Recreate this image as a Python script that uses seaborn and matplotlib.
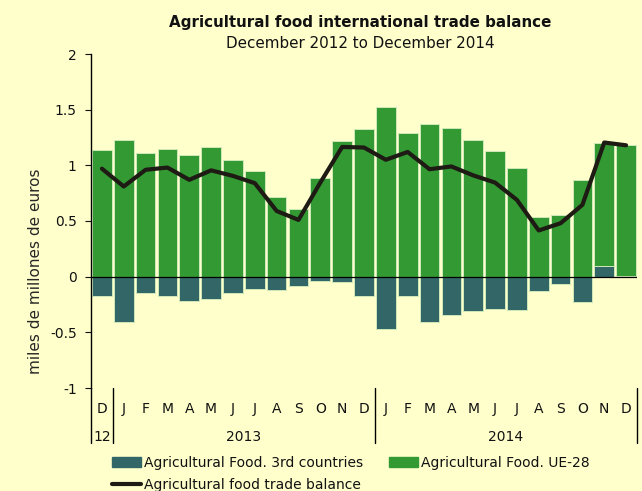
import numpy as np
import matplotlib
matplotlib.use('Agg')
import matplotlib.pyplot as plt
import seaborn as sns
from matplotlib.patches import Patch
from matplotlib.lines import Line2D

# monthly data, Dec 2012 .. Dec 2014 (miles de millones de euros)
months = ['D', 'J', 'F', 'M', 'A', 'M', 'J', 'J', 'A', 'S', 'O', 'N', 'D',
          'J', 'F', 'M', 'A', 'M', 'J', 'J', 'A', 'S', 'O', 'N', 'D']
years = ['12', '2013', '2014']
third_countries = [-0.17, -0.41, -0.15, -0.17, -0.215, -0.205, -0.15, -0.115, -0.12, -0.085, -0.04, -0.05, -0.17,
                   -0.47, -0.17, -0.41, -0.34, -0.31, -0.29, -0.295, -0.125, -0.07, -0.23, 0.095, 0.005]
ue28 = [1.135, 1.225, 1.115, 1.15, 1.09, 1.165, 1.05, 0.95, 0.715, 0.605, 0.885, 1.22, 1.33,
        1.525, 1.29, 1.375, 1.335, 1.225, 1.13, 0.98, 0.54, 0.55, 0.87, 1.105, 1.175]
balance = [0.97, 0.81, 0.96, 0.98, 0.87, 0.955, 0.905, 0.84, 0.59, 0.51, 0.845, 1.165, 1.16,
           1.05, 1.12, 0.965, 0.99, 0.91, 0.845, 0.69, 0.415, 0.48, 0.645, 1.205, 1.18]

bg = '#FFFFCC'
green = '#339933'
teal = '#336666'
dark = '#1E1A14'

sns.set_theme(style='ticks', rc={'figure.facecolor': bg, 'axes.facecolor': bg,
                                 'axes.edgecolor': 'black', 'text.color': '#111111',
                                 'xtick.color': '#111111', 'ytick.color': '#111111'})
plt.rcParams['font.family'] = ['DejaVu Sans']

fig = plt.figure(figsize=(6.42, 4.91), dpi=100)
ax = fig.add_axes([91 / 642, 1 - 388 / 491, 546 / 642, 334 / 491])

x = np.arange(len(months))
ax.bar(x, third_countries, width=0.9, color=teal, edgecolor='#cfe8b8', linewidth=0.7, zorder=2)
ax.bar(x, ue28, width=0.9, bottom=np.clip(third_countries, 0, None), color=green,
       edgecolor='#cfe8b8', linewidth=0.7, zorder=2)
sns.lineplot(x=x, y=balance, ax=ax, color=dark, linewidth=3, zorder=4, legend=False)
ax.axhline(0, color='black', linewidth=0.9, zorder=3)

ax.set_xlim(-0.5, len(months) - 0.5)
ax.set_ylim(-1, 2)
ax.set_yticks([-1, -0.5, 0, 0.5, 1, 1.5, 2])
ax.set_yticklabels(['-1', '-0.5', '0', '0.5', '1', '1.5', '2'])
ax.tick_params(axis='y', length=4.3, width=0.8, pad=6, labelsize=10)
ax.set_xticks(x)
ax.set_xticklabels(months)
ax.tick_params(axis='x', length=0, pad=10, labelsize=10)
for s in ['top', 'right', 'bottom']:
    ax.spines[s].set_visible(False)
ax.spines['left'].set_linewidth(1)

# category separators and year labels below the plot
tr = ax.get_xaxis_transform()
for sx in [-0.5, 0.5, 12.5, 24.5]:
    ax.plot([sx, sx], [0, -0.165], transform=tr, color='black', linewidth=1, clip_on=False)
for yx, lab in zip([0, 6.5, 18.5], years):
    ax.text(yx, -0.147, lab, transform=tr, ha='center', va='center', fontsize=10)

ax.set_ylabel('miles de millones de euros', fontsize=11)
ax.yaxis.set_label_coords(-0.087, 0.35)

fig.text(0.561, 1 - 22 / 491, 'Agricultural food international trade balance',
         ha='center', va='center', fontsize=10.9, fontweight='bold')
fig.text(0.561, 1 - 43 / 491, 'December 2012 to December 2014',
         ha='center', va='center', fontsize=10.9)

handles = [Patch(color=teal), Line2D([], [], color=dark, linewidth=3), Patch(color=green)]
labels = ['Agricultural Food. 3rd countries', 'Agricultural food trade balance',
          'Agricultural Food. UE-28']
fig.legend(handles, labels, ncol=2, loc='upper left', bbox_to_anchor=(112 / 642, 1 - 456 / 491),
           frameon=False, fontsize=10, handlelength=2.1, handletextpad=0.2,
           columnspacing=1.85, labelspacing=0.55, borderpad=0, borderaxespad=0)

fig.savefig('out.png', dpi=100, facecolor=bg)
